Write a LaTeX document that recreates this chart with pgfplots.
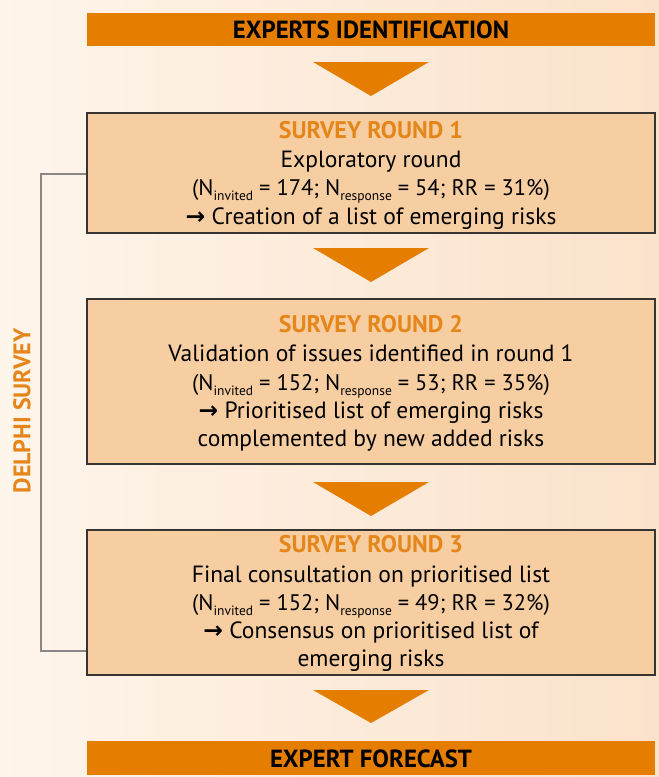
\documentclass[border=0pt]{standalone}
\usepackage{pgfplots}
\pgfplotsset{compat=1.18}
\usepackage{fontspec}
\setmainfont{PT Sans}
\newfontfamily\arrowfont{DejaVu Sans}
\definecolor{bgL}{HTML}{FEF5EB}
\definecolor{bgR}{HTML}{FBE2CB}
\definecolor{orbar}{HTML}{E57E00}
\definecolor{boxfill}{HTML}{F7CEA1}
\definecolor{ortext}{HTML}{E5861A}
\definecolor{bord}{HTML}{383432}
\definecolor{brk}{HTML}{8A8785}
\newcommand\fs{\fontsize{23.5}{28}\selectfont}
\newcommand\fn{\fontsize{22.5}{28}\selectfont}
\newcommand\fb{\fontsize{24.8}{28}\selectfont\bfseries}
\newcommand\ft{\fontsize{24}{28}\selectfont\bfseries}
\newcommand\ar{{\arrowfont\bfseries →}}
\newcommand\sub[1]{\raisebox{-5pt}{\fontsize{13.5}{14}\selectfont #1}}
\newcommand\inv{N\sub{invited}}
\newcommand\res{N\sub{response}}
\begin{document}
\begin{tikzpicture}
\begin{axis}[hide axis, scale only axis, width=659pt, height=777pt,
  xmin=0, xmax=659, ymin=0, ymax=777, y dir=reverse, clip=false, no marks]
% background
\addplot[draw=none, left color=bgL, right color=bgR] coordinates {(0,0) (659,0) (659,777) (0,777)} -- cycle;
% top and bottom bars
\addplot[draw=none, fill=orbar] coordinates {(87,13) (655,13) (655,46) (87,46)} -- cycle;
\addplot[draw=none, fill=orbar] coordinates {(87,741) (655,741) (655,775) (87,775)} -- cycle;
% triangles
\addplot[draw=none, fill=orbar] coordinates {(313,62) (429,62) (371,96)} -- cycle;
\addplot[draw=none, fill=orbar] coordinates {(313,248) (429,248) (371,282)} -- cycle;
\addplot[draw=none, fill=orbar] coordinates {(313,482) (429,482) (371,516)} -- cycle;
\addplot[draw=none, fill=orbar] coordinates {(313,690) (429,690) (371,723)} -- cycle;
% bracket
\addplot[brk, line width=1.2pt] coordinates {(87,174) (41,174) (41,651) (87,651)};
% boxes
\addplot[draw=bord, line width=1.3pt, fill=boxfill] coordinates {(87,113) (655,113) (655,233) (87,233)} -- cycle;
\addplot[draw=bord, line width=1.3pt, fill=boxfill] coordinates {(87,299) (655,299) (655,464) (87,464)} -- cycle;
\addplot[draw=bord, line width=1.3pt, fill=boxfill] coordinates {(87,530) (655,530) (655,675) (87,675)} -- cycle;
% bar texts
\node[anchor=base, font=\fb] at (axis cs:371,38) {EXPERTS IDENTIFICATION};
\node[anchor=base, font=\fb] at (axis cs:371,767) {EXPERT FORECAST};
% side label
\node[rotate=90, font=\ft, text=ortext] at (axis cs:22,411) {DELPHI SURVEY};
% box 1
\node[anchor=base, font=\ft, text=ortext] at (axis cs:371,138) {SURVEY ROUND 1};
\node[anchor=base, font=\fs] at (axis cs:371,167) {Exploratory round};
\node[anchor=base, font=\fn] at (axis cs:371,195) {(\inv{} = 174; \res{} = 54; RR = 31\%)};
\node[anchor=base, font=\fs] at (axis cs:371,224) {\ar{} Creation of a list of emerging risks};
% box 2
\node[anchor=base, font=\ft, text=ortext] at (axis cs:371,332) {SURVEY ROUND 2};
\node[anchor=base, font=\fs] at (axis cs:371,361) {Validation of issues identified in round 1};
\node[anchor=base, font=\fn] at (axis cs:371,390) {(\inv{} = 152; \res{} = 53; RR = 35\%)};
\node[anchor=base, font=\fs] at (axis cs:371,418) {\ar{} Prioritised list of emerging risks};
\node[anchor=base, font=\fs] at (axis cs:371,446) {complemented by new added risks};
% box 3
\node[anchor=base, font=\ft, text=ortext] at (axis cs:371,552) {SURVEY ROUND 3};
\node[anchor=base, font=\fs] at (axis cs:371,582) {Final consultation on prioritised list};
\node[anchor=base, font=\fn] at (axis cs:371,610) {(\inv{} = 152; \res{} = 49; RR = 32\%)};
\node[anchor=base, font=\fs] at (axis cs:371,638) {\ar{} Consensus on prioritised list of};
\node[anchor=base, font=\fs] at (axis cs:371,666) {emerging risks};
\end{axis}
\end{tikzpicture}
\end{document}
